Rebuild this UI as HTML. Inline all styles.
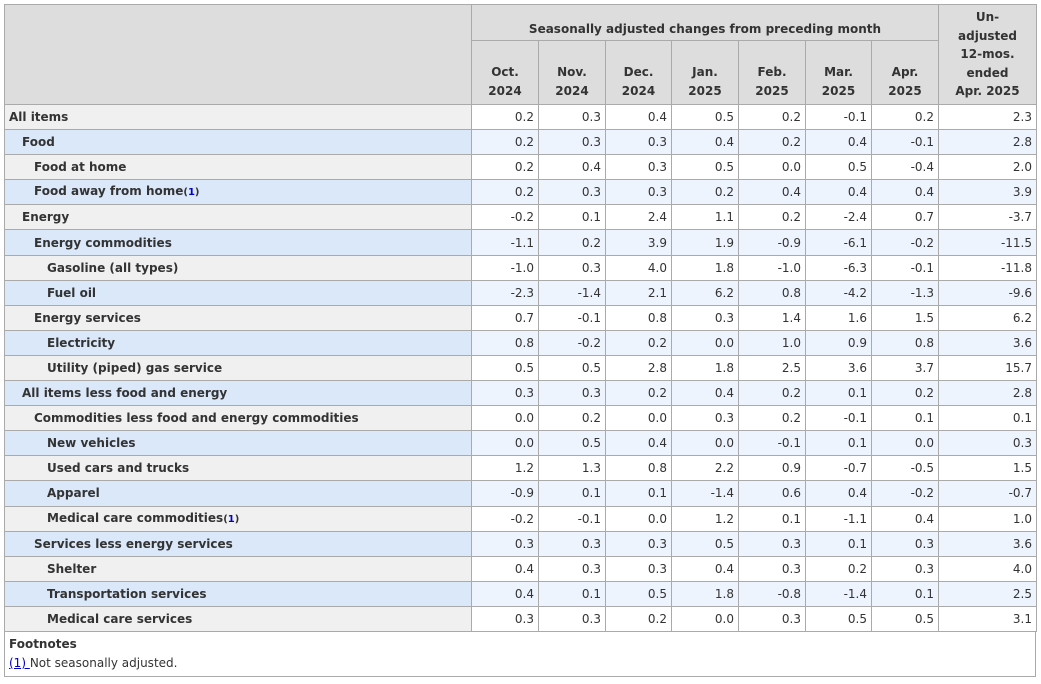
<!DOCTYPE html><html><head><meta charset="utf-8"><style>
body{margin:0;background:#fff;width:1041px;height:684px;overflow:hidden;font-family:"DejaVu Sans","Liberation Sans",sans-serif;font-size:12px;color:#333}
table{position:absolute;left:4px;top:4px;border-collapse:collapse;table-layout:fixed;width:1032px}
td,th{border:1px solid #aaa;padding:0 4px;height:24px;line-height:14px}
td{height:24.1px}
th{background:#ddd;font-weight:bold;text-align:center;color:#333}
td{text-align:right}
td.l{text-align:left;font-weight:bold}
tr.o td{background:#fff}tr.o td.l{background:#f0f0f0}
tr.e td{background:#eef4fd}tr.e td.l{background:#dbe8fa}
.i1{padding-left:17px!important}.i2{padding-left:29px!important}.i3{padding-left:42px!important}
a{color:#00c}
.m{vertical-align:bottom;padding-bottom:3px;line-height:19px}
.fn{position:absolute;left:4px;top:631px;width:1030px;height:45px;border:1px solid #aaa;border-top:none}
</style></head><body>
<table>
<colgroup><col style="width:467px"><col style="width:67px"><col style="width:67px"><col style="width:66px"><col style="width:67px"><col style="width:67px"><col style="width:66px"><col style="width:67px"><col style="width:98px"></colgroup>
<tr><th rowspan="2" style="height:99px"></th><th colspan="7" style="height:31px;vertical-align:bottom;padding-bottom:4px">Seasonally adjusted changes from preceding month</th><th rowspan="2" style="line-height:18.5px">Un-<br>adjusted<br>12-mos.<br>ended<br>Apr. 2025</th></tr>
<tr><th class="m" style="height:60px">Oct.<br>2024</th><th class="m">Nov.<br>2024</th><th class="m">Dec.<br>2024</th><th class="m">Jan.<br>2025</th><th class="m">Feb.<br>2025</th><th class="m">Mar.<br>2025</th><th class="m">Apr.<br>2025</th></tr>
<tr class="o"><td class="l">All items</td><td>0.2</td><td>0.3</td><td>0.4</td><td>0.5</td><td>0.2</td><td>-0.1</td><td>0.2</td><td>2.3</td></tr>
<tr class="e"><td class="l i1">Food</td><td>0.2</td><td>0.3</td><td>0.3</td><td>0.4</td><td>0.2</td><td>0.4</td><td>-0.1</td><td>2.8</td></tr>
<tr class="o"><td class="l i2">Food at home</td><td>0.2</td><td>0.4</td><td>0.3</td><td>0.5</td><td>0.0</td><td>0.5</td><td>-0.4</td><td>2.0</td></tr>
<tr class="e"><td class="l i2">Food away from home<span style="font-size:10px">(<a>1</a>)</span></td><td>0.2</td><td>0.3</td><td>0.3</td><td>0.2</td><td>0.4</td><td>0.4</td><td>0.4</td><td>3.9</td></tr>
<tr class="o"><td class="l i1">Energy</td><td>-0.2</td><td>0.1</td><td>2.4</td><td>1.1</td><td>0.2</td><td>-2.4</td><td>0.7</td><td>-3.7</td></tr>
<tr class="e"><td class="l i2">Energy commodities</td><td>-1.1</td><td>0.2</td><td>3.9</td><td>1.9</td><td>-0.9</td><td>-6.1</td><td>-0.2</td><td>-11.5</td></tr>
<tr class="o"><td class="l i3">Gasoline (all types)</td><td>-1.0</td><td>0.3</td><td>4.0</td><td>1.8</td><td>-1.0</td><td>-6.3</td><td>-0.1</td><td>-11.8</td></tr>
<tr class="e"><td class="l i3">Fuel oil</td><td>-2.3</td><td>-1.4</td><td>2.1</td><td>6.2</td><td>0.8</td><td>-4.2</td><td>-1.3</td><td>-9.6</td></tr>
<tr class="o"><td class="l i2">Energy services</td><td>0.7</td><td>-0.1</td><td>0.8</td><td>0.3</td><td>1.4</td><td>1.6</td><td>1.5</td><td>6.2</td></tr>
<tr class="e"><td class="l i3">Electricity</td><td>0.8</td><td>-0.2</td><td>0.2</td><td>0.0</td><td>1.0</td><td>0.9</td><td>0.8</td><td>3.6</td></tr>
<tr class="o"><td class="l i3">Utility (piped) gas service</td><td>0.5</td><td>0.5</td><td>2.8</td><td>1.8</td><td>2.5</td><td>3.6</td><td>3.7</td><td>15.7</td></tr>
<tr class="e"><td class="l i1">All items less food and energy</td><td>0.3</td><td>0.3</td><td>0.2</td><td>0.4</td><td>0.2</td><td>0.1</td><td>0.2</td><td>2.8</td></tr>
<tr class="o"><td class="l i2">Commodities less food and energy commodities</td><td>0.0</td><td>0.2</td><td>0.0</td><td>0.3</td><td>0.2</td><td>-0.1</td><td>0.1</td><td>0.1</td></tr>
<tr class="e"><td class="l i3">New vehicles</td><td>0.0</td><td>0.5</td><td>0.4</td><td>0.0</td><td>-0.1</td><td>0.1</td><td>0.0</td><td>0.3</td></tr>
<tr class="o"><td class="l i3">Used cars and trucks</td><td>1.2</td><td>1.3</td><td>0.8</td><td>2.2</td><td>0.9</td><td>-0.7</td><td>-0.5</td><td>1.5</td></tr>
<tr class="e"><td class="l i3">Apparel</td><td>-0.9</td><td>0.1</td><td>0.1</td><td>-1.4</td><td>0.6</td><td>0.4</td><td>-0.2</td><td>-0.7</td></tr>
<tr class="o"><td class="l i3">Medical care commodities<span style="font-size:10px">(<a>1</a>)</span></td><td>-0.2</td><td>-0.1</td><td>0.0</td><td>1.2</td><td>0.1</td><td>-1.1</td><td>0.4</td><td>1.0</td></tr>
<tr class="e"><td class="l i2">Services less energy services</td><td>0.3</td><td>0.3</td><td>0.3</td><td>0.5</td><td>0.3</td><td>0.1</td><td>0.3</td><td>3.6</td></tr>
<tr class="o"><td class="l i3">Shelter</td><td>0.4</td><td>0.3</td><td>0.3</td><td>0.4</td><td>0.3</td><td>0.2</td><td>0.3</td><td>4.0</td></tr>
<tr class="e"><td class="l i3">Transportation services</td><td>0.4</td><td>0.1</td><td>0.5</td><td>1.8</td><td>-0.8</td><td>-1.4</td><td>0.1</td><td>2.5</td></tr>
<tr class="o"><td class="l i3">Medical care services</td><td>0.3</td><td>0.3</td><td>0.2</td><td>0.0</td><td>0.3</td><td>0.5</td><td>0.5</td><td>3.1</td></tr>
</table>
<div class="fn"><div style="position:absolute;left:4px;top:6px;font-weight:bold">Footnotes</div><div style="position:absolute;left:4px;top:25px"><a style="text-decoration:underline">(1) </a>Not seasonally adjusted.</div></div>
</body></html>
